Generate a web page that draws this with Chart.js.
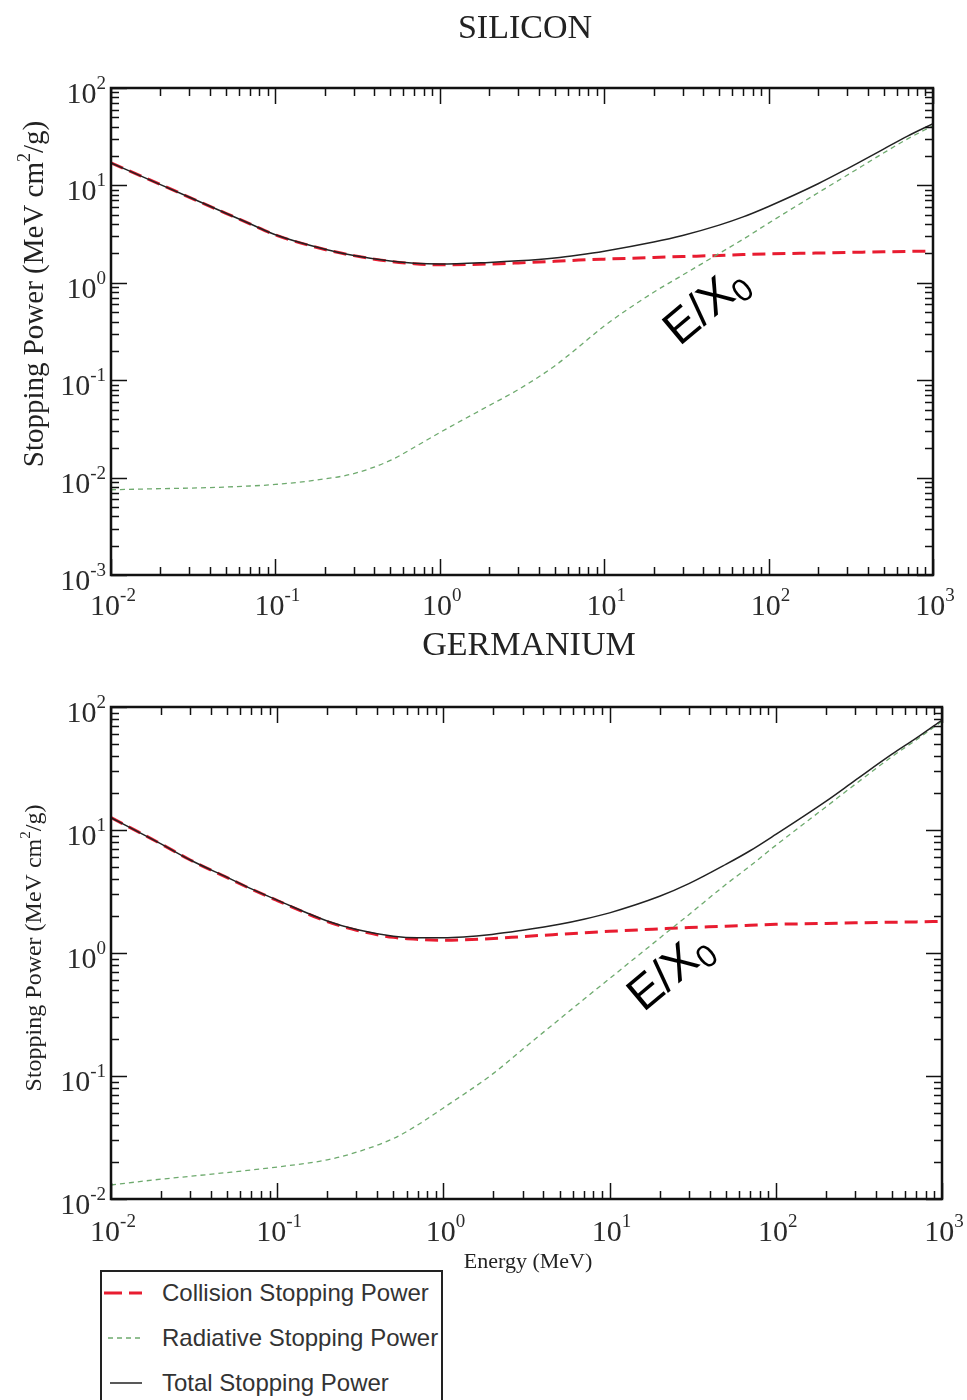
<!DOCTYPE html>
<html>
<head>
<meta charset="utf-8">
<script src="https://cdn.jsdelivr.net/npm/chart.js@4.4.1/dist/chart.umd.min.js"></script>
<style>
  html, body { margin: 0; padding: 0; background: #fff; width: 967px; height: 1400px; overflow: hidden; }
  #wrap { position: relative; width: 967px; height: 1400px; }
  canvas { position: absolute; left: 0; }
  #si { top: 0; }
  #ge { top: 620px; }
  #legend {
    position: absolute; left: 100px; top: 1270px; width: 343px; height: 150px;
    border: 2px solid #222; box-sizing: border-box; background: #fff;
    font-family: "Liberation Sans", Arial, sans-serif; font-size: 24px; color: #333;
  }
  .row { position: absolute; left: 0; height: 30px; display: flex; align-items: center; white-space: nowrap; }
  .row svg { width: 56px; height: 30px; margin-right: 4px; }
</style>
</head>
<body>
<div id="wrap">
  <canvas id="si" width="967" height="620"></canvas>
  <canvas id="ge" width="967" height="660"></canvas>
  <div id="legend">
    <div class="row" style="top:6px">
      <svg viewBox="0 0 56 30"><line x1="2" y1="15" x2="40" y2="15" stroke="rgb(232,28,48)" stroke-width="3" stroke-dasharray="18 7"/></svg>Collision Stopping Power
    </div>
    <div class="row" style="top:51px">
      <svg viewBox="0 0 56 30"><line x1="6" y1="15" x2="40" y2="15" stroke="rgb(110,170,110)" stroke-width="1.5" stroke-dasharray="5 4"/></svg>Radiative Stopping Power
    </div>
    <div class="row" style="top:96px">
      <svg viewBox="0 0 56 30"><line x1="8" y1="15" x2="40" y2="15" stroke="#222" stroke-width="1.5"/></svg>Total Stopping Power
    </div>
  </div>
</div>
<script>
// electron energy (MeV)
const energy = [0.01, 0.02, 0.03, 0.05, 0.07, 0.1, 0.2, 0.3, 0.5, 0.7, 1, 2, 3, 5, 7, 10, 20, 30, 50, 70, 100, 200, 300, 500, 700, 1000];

// silicon, MeV cm2/g
const siCollision = [17.0, 10.2, 7.55, 5.17, 4.03, 3.10, 2.2, 1.9, 1.66, 1.57, 1.53, 1.56, 1.60, 1.66, 1.71, 1.75, 1.82, 1.86, 1.91, 1.95, 1.98, 2.02, 2.05, 2.08, 2.10, 2.12];
const siRadiative = [0.0075, 0.0077, 0.0078, 0.0080, 0.0082, 0.0085, 0.0097, 0.0110, 0.0150, 0.0205, 0.029, 0.055, 0.080, 0.140, 0.22, 0.36, 0.80, 1.20, 2.0, 2.8, 4.1, 8.4, 12.7, 21.5, 30, 41];
const siTotal = [17.0, 10.2, 7.56, 5.18, 4.04, 3.11, 2.21, 1.91, 1.675, 1.59, 1.56, 1.62, 1.68, 1.80, 1.93, 2.11, 2.62, 3.06, 3.91, 4.75, 6.08, 10.4, 14.8, 23.6, 32.1, 43.1];

// germanium, MeV cm2/g
const geCollision = [12.6, 7.7, 5.7, 4.1, 3.3, 2.67, 1.8, 1.53, 1.34, 1.29, 1.27, 1.31, 1.36, 1.42, 1.46, 1.50, 1.57, 1.61, 1.65, 1.68, 1.71, 1.74, 1.76, 1.78, 1.79, 1.81];
const geRadiative = [0.013, 0.0145, 0.0153, 0.0164, 0.0172, 0.0182, 0.0208, 0.024, 0.031, 0.040, 0.055, 0.105, 0.165, 0.29, 0.42, 0.62, 1.32, 2.05, 3.6, 5.1, 7.5, 15.4, 23.5, 39.5, 54, 76.5];
const geTotal = [12.6, 7.7, 5.7, 4.12, 3.32, 2.69, 1.82, 1.55, 1.37, 1.33, 1.33, 1.42, 1.53, 1.71, 1.88, 2.12, 2.89, 3.66, 5.25, 6.78, 9.21, 17.1, 25.3, 41.3, 55.8, 78.3];

// decade exponents used as tick labels
const xTickExps = [-2, -1, 0, 1, 2, 3];
const siYTickExps = [-3, -2, -1, 0, 1, 2];
const geYTickExps = [-2, -1, 0, 1, 2];

const RED = "rgb(232,28,48)";
const GREEN = "rgb(110,170,110)";
const BLACK = "#222";
const SERIF = '"Liberation Serif", "Times New Roman", serif';
const SANS = '"Liberation Sans", Arial, sans-serif';

function pts(ys) {
  return energy.map((e, i) => ({ x: e, y: ys[i] }));
}

// major + minor tick values for a list of decade exponents
function logTicks(exps) {
  const out = [];
  for (let i = 0; i < exps.length; i++) {
    const base = Math.pow(10, exps[i]);
    out.push({ value: base, major: true, exp: exps[i] });
    if (i < exps.length - 1) {
      for (let m = 2; m <= 9; m++) out.push({ value: m * base, major: false });
    }
  }
  return out;
}

// text in pieces: [{text, size, family, dy}]
function drawRich(ctx, parts, x, y, align) {
  let w = 0;
  parts.forEach(p => {
    ctx.font = p.size + "px " + p.family;
    p.w = ctx.measureText(p.text).width;
    w += p.w;
  });
  let cx = align === "center" ? x - w / 2 : align === "right" ? x - w : x;
  ctx.textAlign = "left";
  ctx.textBaseline = "alphabetic";
  parts.forEach(p => {
    ctx.font = p.size + "px " + p.family;
    ctx.fillText(p.text, cx, y + (p.dy || 0));
    cx += p.w;
  });
}

function powLabel(exp) {
  return [
    { text: "10", size: 30, family: SERIF },
    { text: String(exp), size: 19, family: SERIF, dy: -14 }
  ];
}

function framePlugin(cfg) {
  return {
    id: "frame",
    afterDraw(chart) {
      const ctx = chart.ctx;
      const { left, right, top, bottom } = chart.chartArea;
      const xs = chart.scales.x, ys = chart.scales.y;
      ctx.save();

      // inward ticks on all four sides
      ctx.strokeStyle = "#111";
      ctx.lineWidth = 1.5;
      ctx.beginPath();
      logTicks(xTickExps).forEach(t => {
        const px = Math.round(xs.getPixelForValue(t.value)) + 0.5;
        const len = t.major ? 16 : 8;
        ctx.moveTo(px, bottom); ctx.lineTo(px, bottom - len);
        ctx.moveTo(px, top); ctx.lineTo(px, top + len);
      });
      logTicks(cfg.yExps).forEach(t => {
        const py = Math.round(ys.getPixelForValue(t.value)) + 0.5;
        const len = t.major ? 16 : 8;
        ctx.moveTo(left, py); ctx.lineTo(left + len, py);
        ctx.moveTo(right, py); ctx.lineTo(right - len, py);
      });
      ctx.stroke();

      ctx.lineWidth = 2.5;
      ctx.strokeRect(left, top, right - left, bottom - top);

      // tick labels
      ctx.fillStyle = "#2a2a2a";
      xTickExps.forEach(e => {
        const px = xs.getPixelForValue(Math.pow(10, e));
        drawRich(ctx, powLabel(e), px + 2, bottom + cfg.xLabelGap, "center");
      });
      cfg.yExps.forEach(e => {
        const py = ys.getPixelForValue(Math.pow(10, e));
        drawRich(ctx, powLabel(e), left - 5, py + 15, "right");
      });

      // panel title
      ctx.fillStyle = "#222";
      drawRich(ctx, [{ text: cfg.title, size: 34, family: SERIF }], cfg.titleX, cfg.titleY, "center");

      // y axis title
      ctx.save();
      ctx.translate(33, cfg.yTitleY);
      ctx.rotate(-Math.PI / 2);
      const s = cfg.yTitleSize;
      drawRich(ctx, [
        { text: "Stopping Power (MeV cm", size: s, family: SERIF },
        { text: "2", size: Math.round(s * 0.62), family: SERIF, dy: -s * 0.45 },
        { text: "/g)", size: s, family: SERIF }
      ], 0, s * 0.33, "center");
      ctx.restore();

      // x axis title
      if (cfg.xTitle) {
        drawRich(ctx, [{ text: cfg.xTitle, size: 22, family: SERIF }], cfg.xTitleX, cfg.xTitleY, "center");
      }

      // E/X0 note
      const ax = xs.getPixelForValue(cfg.noteAt[0]);
      const ay = ys.getPixelForValue(cfg.noteAt[1]);
      ctx.save();
      ctx.translate(ax, ay);
      ctx.rotate(-40 * Math.PI / 180);
      ctx.fillStyle = "#000";
      drawRich(ctx, [
        { text: "E/X", size: 47, family: SANS },
        { text: "0", size: 32, family: SANS, dy: 8 }
      ], 0, 16, "center");
      ctx.restore();

      ctx.restore();
    }
  };
}

function makeChart(id, coll, rad, tot, yMin, yMax, padding, cfg) {
  return new Chart(document.getElementById(id), {
    type: "line",
    data: {
      datasets: [
        { label: "Collision Stopping Power", data: pts(coll), borderColor: RED, borderWidth: 3, borderDash: [13, 7], order: 3 },
        { label: "Radiative Stopping Power", data: pts(rad), borderColor: GREEN, borderWidth: 1.3, borderDash: [5, 4], order: 2 },
        { label: "Total Stopping Power", data: pts(tot), borderColor: BLACK, borderWidth: 1.5, order: 1 }
      ]
    },
    options: {
      responsive: false,
      animation: false,
      devicePixelRatio: 1,
      layout: { padding },
      elements: {
        point: { radius: 0 },
        line: { cubicInterpolationMode: "monotone", fill: false }
      },
      plugins: { legend: { display: false }, tooltip: { enabled: false } },
      scales: {
        x: { type: "logarithmic", min: 0.01, max: 1000, display: false },
        y: { type: "logarithmic", min: yMin, max: yMax, display: false }
      }
    },
    plugins: [framePlugin(cfg)]
  });
}

makeChart("si", siCollision, siRadiative, siTotal, 0.001, 100,
  { left: 111, right: 34, top: 88, bottom: 45 },
  { yExps: siYTickExps, title: "SILICON", titleX: 525, titleY: 38, yTitleY: 294, yTitleSize: 29,
    xLabelGap: 40, noteAt: [41, 0.6] });

makeChart("ge", geCollision, geRadiative, geTotal, 0.01, 100,
  { left: 111, right: 25, top: 87, bottom: 81 },
  { yExps: geYTickExps, title: "GERMANIUM", titleX: 529, titleY: 35, yTitleY: 328, yTitleSize: 24,
    xLabelGap: 42, xTitle: "Energy (MeV)", xTitleX: 528, xTitleY: 648, noteAt: [22.8, 0.72] });
</script>
</body>
</html>
